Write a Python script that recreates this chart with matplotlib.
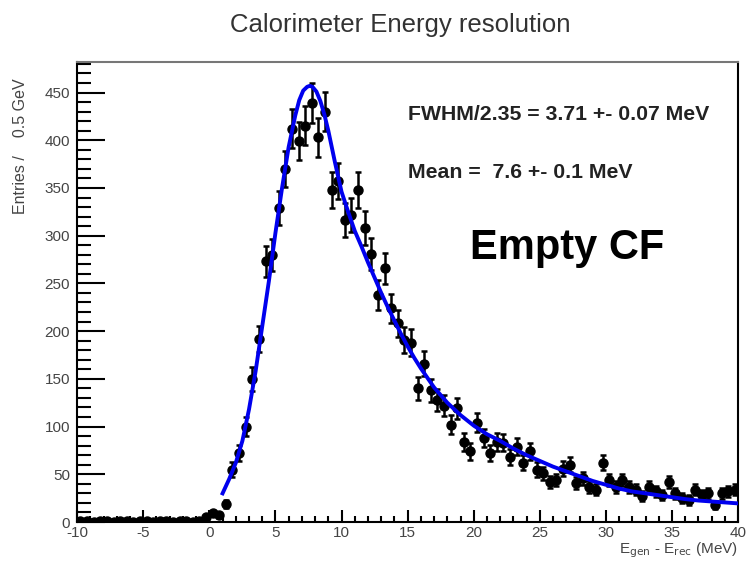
import numpy as np
import matplotlib.pyplot as plt
from matplotlib.ticker import MultipleLocator

plt.rcParams['font.family'] = ['Liberation Sans', 'DejaVu Sans']
plt.rcParams['axes.unicode_minus'] = False

# histogram bin centres (0.5 MeV bins) and entries
bin_centers = np.arange(-9.75, 40.0, 0.5)
entries = [
    1, 1, 0, 1, 1, 0, 1, 1, 0, 1,
    1, 0, 1, 1, 0, 1, 1, 0, 1, 5,
    9, 7, 19, 55, 72, 100, 150, 192, 273, 280,
    329, 370, 412, 399, 415, 439, 403, 430, 348, 357,
    316, 322, 348, 308, 281, 238, 266, 224, 208, 191,
    188, 140, 166, 138, 128, 122, 102, 119, 84, 74,
    104, 88, 72, 84, 83, 68, 79, 62, 74, 55,
    51, 42, 44, 56, 60, 41, 46, 37, 34, 62,
    44, 37, 44, 37, 34, 27, 37, 32, 28, 42,
    30, 25, 23, 34, 28, 30, 18, 30, 32, 34,
]
errors = np.sqrt(np.array(entries, dtype=float))

# fit curve
fit_x = [1.0, 1.5, 2.0, 2.5, 3.0, 3.5, 4.0, 4.5, 5.0, 5.5, 6.0, 6.5, 6.8, 7.1,
         7.4, 7.6, 7.8, 8.1, 8.4, 8.7, 9.0, 9.5, 10.0, 10.5, 11.0, 11.5, 12.0,
         12.5, 13.0, 13.5, 14.0, 14.5, 15.0, 15.5, 16.0, 16.5, 17.0, 17.5, 18.0,
         19.0, 20.0, 21.0, 22.0, 23.0, 24.0, 25.0, 26.0, 27.0, 28.0, 29.0,
         30.0, 31.0, 32.0, 33.0, 34.0, 35.0, 36.0, 37.0, 38.0, 39.0, 40.0]
fit_y = [30, 45, 62, 85, 118, 158, 205, 252, 303, 350, 393, 426, 442, 452,
         456, 457, 456, 451, 441, 427, 410, 377, 346, 325, 305, 289, 272,
         256, 240, 225, 211, 197, 184, 172, 161, 151, 141, 133, 125,
         112, 101, 92, 85, 77, 70, 64, 58, 53, 48, 43,
         39, 35, 32, 30, 28, 26, 24, 22.5, 21.5, 20.5, 19.5]

fig = plt.figure(figsize=(7.49, 5.61), dpi=100)
ax = fig.add_axes([0.103, 0.0695, 0.8825, 0.82])

ax.errorbar(bin_centers, entries, yerr=errors, fmt='o', color='black',
            markersize=6.5, elinewidth=1.8, capsize=2.5, capthick=1.8, zorder=2)
ax.plot(fit_x, fit_y, color='#0000ee', lw=2.8, zorder=3)

ax.set_xlim(-10, 40)
ax.set_ylim(0, 482)
ax.xaxis.set_major_locator(MultipleLocator(5))
ax.xaxis.set_minor_locator(MultipleLocator(1))
ax.yaxis.set_major_locator(MultipleLocator(50))
ax.yaxis.set_minor_locator(MultipleLocator(10))
ax.tick_params(axis='x', which='major', direction='in', length=9, width=1.5,
               labelsize=11, labelcolor='#444444', pad=3)
ax.tick_params(axis='x', which='minor', direction='in', length=4.5, width=1.5)
ax.tick_params(axis='y', which='major', direction='in', length=20, width=1.5,
               labelsize=11, labelcolor='#444444', pad=5)
ax.tick_params(axis='y', which='minor', direction='in', length=10, width=1.5)
for s in ax.spines.values():
    s.set_linewidth(1.5)
ax.spines['top'].set_color('#777777')

fig.text(0.534, 0.955, 'Calorimeter Energy resolution', ha='center', va='center',
         fontsize=18.5, color='#333333')
fig.text(0.027, 0.86, 'Entries /    0.5 GeV', rotation=90, ha='center', va='top',
         fontsize=11.5, color='#444444')
fig.text(0.985, 0.002, r'E$_{\mathrm{gen}}$ - E$_{\mathrm{rec}}$ (MeV)', ha='right',
         va='bottom', fontsize=11, color='#444444')

ax.text(0.50, 0.885, 'FWHM/2.35 = 3.71 +- 0.07 MeV', transform=ax.transAxes,
        fontsize=15.3, fontweight='bold', color='#222222', va='center')
ax.text(0.50, 0.76, 'Mean =  7.6 +- 0.1 MeV', transform=ax.transAxes,
        fontsize=15.3, fontweight='bold', color='#222222', va='center')
ax.text(0.595, 0.595, 'Empty CF', transform=ax.transAxes,
        fontsize=30, fontweight='bold', color='black', va='center')

fig.savefig('out.png', dpi=100)
